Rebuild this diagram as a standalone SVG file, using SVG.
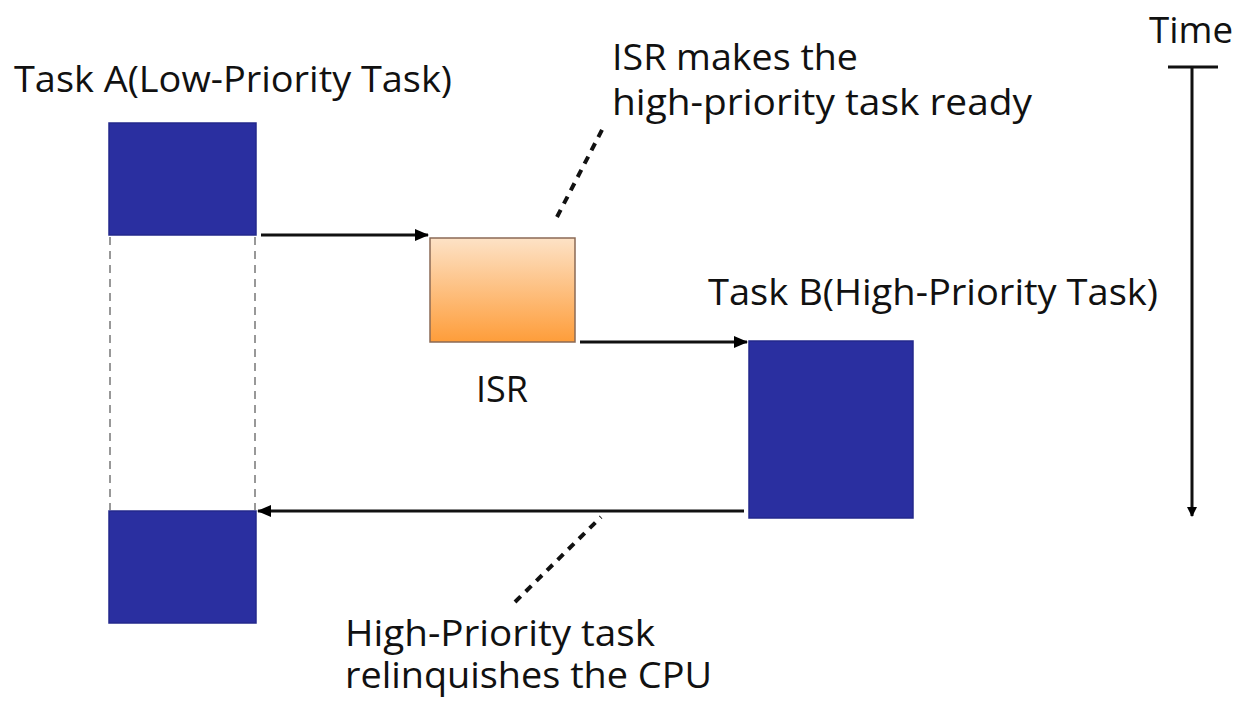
<svg xmlns="http://www.w3.org/2000/svg" width="1257" height="715" viewBox="0 0 1257 715">
<defs>
<linearGradient id="isrGrad" x1="0" y1="0" x2="0" y2="1">
<stop offset="0" stop-color="#fde2c6"/>
<stop offset="1" stop-color="#fe9d3a"/>
</linearGradient>
<marker id="arr" markerWidth="10" markerHeight="10" refX="9" refY="5" orient="auto" markerUnits="userSpaceOnUse" viewBox="0 0 10 10">
<path d="M0,0 L10,5 L0,10 z" fill="#000"/>
</marker>
<marker id="arrS" markerWidth="14" markerHeight="12" refX="13" refY="6" orient="auto" markerUnits="userSpaceOnUse" viewBox="0 0 14 12">
<path d="M0,0 L14,6 L0,12 z" fill="#000"/>
</marker>
</defs>
<style>
.lbl{font-family:"Open Sans","DejaVu Sans",sans-serif;font-size:36px;fill:#111;}
.task{fill:#2a2fa0;stroke:#23288c;stroke-width:1.5;}
.conn{stroke:#111;stroke-width:3;fill:none;}
.guide{stroke:#777;stroke-width:1.5;stroke-dasharray:8,6;fill:none;}
.callout{stroke:#111;stroke-width:4;stroke-dasharray:8,7;fill:none;}
</style>
<rect width="1257" height="715" fill="#fff"/>
<g id="taskA-top">
<rect class="task" x="109" y="123" width="147" height="112"/>
<text class="lbl" x="14" y="92" textLength="438" lengthAdjust="spacingAndGlyphs">Task A(Low-Priority Task)</text>
</g>
<g id="isr">
<rect x="430" y="238" width="145" height="104" fill="url(#isrGrad)" stroke="#8a6a55" stroke-width="1.5"/>
<text class="lbl" x="476" y="402" textLength="52" lengthAdjust="spacingAndGlyphs">ISR</text>
</g>
<g id="taskB">
<rect class="task" x="749" y="341" width="164" height="177"/>
<text class="lbl" x="708" y="305" textLength="450" lengthAdjust="spacingAndGlyphs">Task B(High-Priority Task)</text>
</g>
<g id="taskA-bottom">
<rect class="task" x="109" y="511" width="147" height="112"/>
</g>
<g id="note-isr">
<text class="lbl" x="612" y="70" textLength="246" lengthAdjust="spacingAndGlyphs">ISR makes the</text>
<text class="lbl" x="612" y="115" textLength="420" lengthAdjust="spacingAndGlyphs">high-priority task ready</text>
</g>
<g id="note-relinquish">
<text class="lbl" x="345" y="646" textLength="310" lengthAdjust="spacingAndGlyphs">High-Priority task</text>
<text class="lbl" x="345" y="688" textLength="367" lengthAdjust="spacingAndGlyphs">relinquishes the CPU</text>
</g>
<g id="time-axis">
<text class="lbl" x="1149" y="43" textLength="84" lengthAdjust="spacingAndGlyphs">Time</text>
<line x1="1168" y1="67" x2="1218" y2="67" stroke="#111" stroke-width="3"/>
<line x1="1192" y1="67" x2="1192" y2="516" stroke="#111" stroke-width="3" marker-end="url(#arr)"/>
</g>
<g id="connectors">
<line class="guide" x1="110" y1="237" x2="110" y2="510"/>
<line class="guide" x1="255" y1="237" x2="255" y2="510"/>
<line class="conn" x1="261" y1="235" x2="428" y2="235" marker-end="url(#arrS)"/>
<line class="conn" x1="580" y1="342" x2="747" y2="342" marker-end="url(#arrS)"/>
<line class="conn" x1="744" y1="511" x2="258" y2="511" marker-end="url(#arrS)"/>
<line class="callout" x1="557" y1="217" x2="603" y2="128"/>
<line class="callout" x1="515" y1="602" x2="601" y2="517"/>
</g>
</svg>
